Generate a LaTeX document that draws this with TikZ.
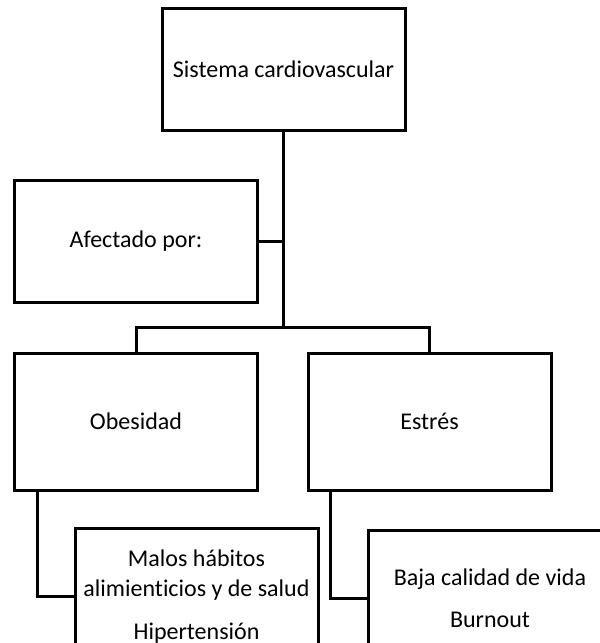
\documentclass[tikz,border=0pt]{standalone}
\usepackage{fontspec}
\setmainfont[Ligatures={NoCommon}]{Carlito}
\usepackage{tikz}
\usetikzlibrary{
    positioning,
    calc
}
\tikzset{
  box/.style = {
      draw,
      rectangle,
      line width=3pt,
      fill=white,
      align=center,
      minimum width=243pt,
      font=\fontsize{24}{30}\selectfont
  },
  tallbox/.style = {
      box,
      minimum height=137pt
  },
  flatbox/.style = {
      box,
      minimum height=122pt
  },
  edge/.style = {
      line width=3pt
  }
}

\begin{document}
\begin{tikzpicture}[x=1pt, y=-1pt]
        \clip (0,0) rectangle (600,643);
        \fill[white] (0,0) rectangle (600,643);
        \node[flatbox] (sist) at (283.5,69) {Sistema cardiovascular};
        \node[flatbox] (afect) at (136,241) {Afectado por:};
        \node[tallbox] (obes) at (136,421.5) {Obesidad};
        \node[tallbox] (estres) at (429.5,421.5) {Estrés};
        \node[tallbox] (malos) at (196.5,596.5) {Malos hábitos\\alimienticios y de salud\\[13pt]Hipertensión};
        \node[tallbox] (baja) at (490,598.5) {Baja calidad de vida\\[12pt]Burnout};
        \coordinate (split) at (283.5,327);
        % Edges
        \draw[edge] (sist.south) -- (split);
        \draw[edge] (afect.east) -- (afect.east -| split);
        \draw[edge] (obes.north) |- (split) -| (estres.north);
        \draw[edge] ([xshift=24pt]obes.south west) |- (malos.west);
        \draw[edge] ([xshift=24pt]estres.south west) |- (baja.west);
    \end{tikzpicture}
\end{document}
